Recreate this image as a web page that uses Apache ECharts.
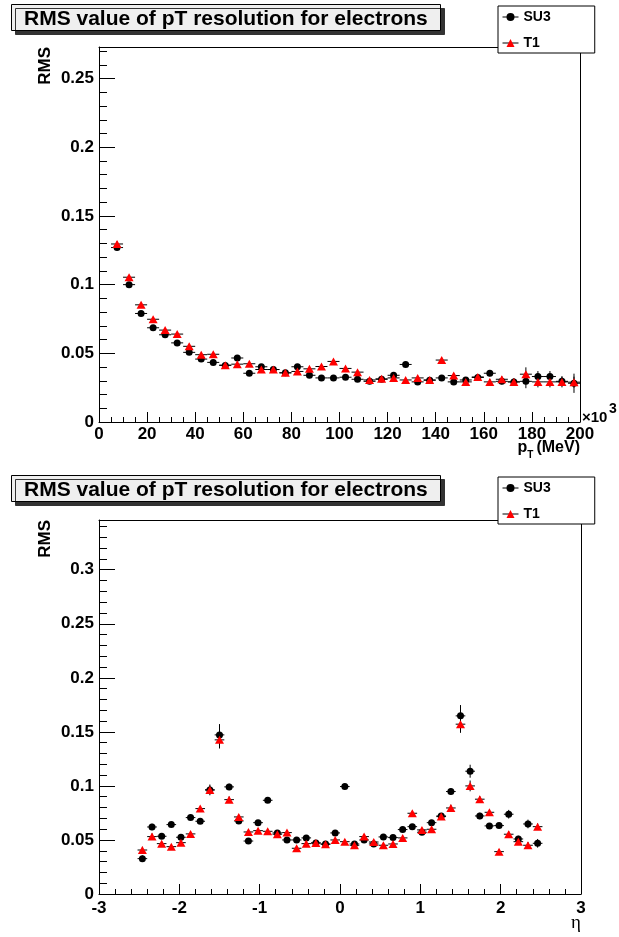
<!DOCTYPE html>
<html><head><meta charset="utf-8">
<script src="https://cdn.jsdelivr.net/npm/echarts@6/dist/echarts.min.js"></script>
<style>html,body{margin:0;padding:0;background:#fff}#c{width:619px;height:937px}</style>
</head><body><div id="c"></div>
<script>
// ---------- data ----------
const titleText = 'RMS value of pT resolution for electrons';
const seriesNames = ['SU3', 'T1'];

// pT plot (x in units of 10^3 MeV)
const ptBins = [7.5,12.5,17.5,22.5,27.5,32.5,37.5,42.5,47.5,52.5,57.5,62.5,67.5,72.5,77.5,82.5,87.5,92.5,97.5,102.5,107.5,112.5,117.5,122.5,127.5,132.5,137.5,142.5,147.5,152.5,157.5,162.5,167.5,172.5,177.5,182.5,187.5,192.5,197.5];
const su3Pt = [0.127,0.100,0.079,0.0686,0.0635,0.0576,0.0507,0.0458,0.0434,0.0412,0.0466,0.0355,0.0402,0.0382,0.0358,0.0402,0.034,0.0321,0.0321,0.0326,0.0311,0.0296,0.0311,0.034,0.0419,0.0292,0.0304,0.0321,0.0292,0.0306,0.0324,0.0355,0.0296,0.0292,0.0296,0.0331,0.0331,0.0296,0.0282];
const t1Pt = [0.1296,0.1054,0.0853,0.0748,0.0669,0.064,0.0551,0.049,0.0493,0.0414,0.0421,0.0424,0.0382,0.0382,0.0358,0.0368,0.0387,0.0404,0.0441,0.039,0.0363,0.0306,0.0314,0.0321,0.0306,0.0321,0.0306,0.0451,0.0338,0.0292,0.0328,0.0292,0.0311,0.0292,0.0348,0.0292,0.0292,0.0292,0.029];
const su3PtErr = [0.002,0.0015,0.0012,0.001,0.001,0.001,0.001,0.001,0.001,0.001,0.0012,0.001,0.001,0.001,0.001,0.0012,0.0012,0.0012,0.0012,0.0013,0.0013,0.0013,0.0014,0.0015,0.0016,0.0016,0.0017,0.0018,0.0018,0.002,0.002,0.0022,0.0022,0.0025,0.005,0.004,0.004,0.0035,0.007];
const t1PtErr = [0.002,0.0015,0.0012,0.001,0.001,0.001,0.001,0.001,0.001,0.001,0.0012,0.001,0.001,0.001,0.001,0.0012,0.0012,0.0012,0.0012,0.0013,0.0013,0.0013,0.0014,0.0015,0.0016,0.0016,0.0017,0.0018,0.0018,0.002,0.002,0.0022,0.0022,0.0025,0.005,0.004,0.004,0.004,0.004];
const ptHalfBin = 2.5;
const ptRange = [0, 200];
const ptTickStep = [20, 5];
const rmsRangePt = [0, 0.273];

// eta plot
const etaBins = [-2.46,-2.34,-2.22,-2.10,-1.98,-1.86,-1.74,-1.62,-1.50,-1.38,-1.26,-1.14,-1.02,-0.90,-0.78,-0.66,-0.54,-0.42,-0.30,-0.18,-0.06,0.06,0.18,0.30,0.42,0.54,0.66,0.78,0.90,1.02,1.14,1.26,1.38,1.50,1.62,1.74,1.86,1.98,2.10,2.22,2.34,2.46];
const su3Eta = [0.0327,0.062,0.0534,0.0642,0.0525,0.0707,0.0673,0.0963,0.1472,0.0991,0.0676,0.049,0.066,0.0867,0.0565,0.05,0.05,0.0519,0.0472,0.0463,0.0565,0.0994,0.0463,0.05,0.0463,0.0528,0.0522,0.0596,0.0623,0.0571,0.066,0.0722,0.0948,0.1648,0.1136,0.0722,0.063,0.0633,0.0738,0.0509,0.0648,0.0469];
const t1Eta = [0.0407,0.0531,0.0466,0.0438,0.0475,0.0556,0.079,0.0963,0.1426,0.0873,0.0713,0.0574,0.0586,0.058,0.0553,0.0568,0.0423,0.0466,0.0472,0.046,0.05,0.0484,0.0451,0.0531,0.0481,0.0451,0.0463,0.0519,0.0747,0.0593,0.0599,0.0716,0.0796,0.1571,0.1,0.0877,0.0756,0.0392,0.0553,0.0484,0.0451,0.0623];
const su3EtaErr = [0.003,0.003,0.002,0.002,0.002,0.002,0.002,0.005,0.010,0.003,0.002,0.002,0.002,0.002,0.002,0.002,0.002,0.002,0.002,0.002,0.002,0.002,0.002,0.002,0.002,0.002,0.002,0.002,0.002,0.002,0.002,0.002,0.003,0.010,0.006,0.003,0.002,0.002,0.004,0.003,0.004,0.004];
const t1EtaErr = [0.003,0.003,0.002,0.002,0.002,0.002,0.002,0.004,0.008,0.003,0.002,0.002,0.002,0.002,0.002,0.002,0.002,0.002,0.002,0.002,0.002,0.002,0.002,0.002,0.002,0.002,0.002,0.002,0.002,0.002,0.002,0.002,0.003,0.008,0.005,0.003,0.002,0.002,0.003,0.003,0.003,0.003];
const etaHalfBin = 0.06;
const etaRange = [-3, 3];
const etaTickStep = [1, 0.2];
const rmsRangeEta = [0, 0.346];
const rmsTickStep = [0.05, 0.01];

// ---------- chart ----------
const FONT = '"Liberation Sans", Arial, Helvetica, sans-serif';
const zip = (xs, ys, es) => xs.map((x, i) => es ? [x, ys[i], es[i]] : [x, ys[i]]);

const grids = [
  {left: 99, top: 47, width: 481, height: 375},
  {left: 99, top: 520, width: 482, height: 374}
];

function gridOpt(g) { return Object.assign({show: false, containLabel: false, outerBoundsMode: 'none'}, g); }

const labelStyle = {color: '#000', fontSize: 17, fontWeight: 'bold', fontFamily: FONT};
const blackLine = {lineStyle: {color: '#000', width: 1}};

function mainX(gi, range, step, margin) {
  return {type: 'value', gridIndex: gi, min: range[0], max: range[1], interval: step,
    axisLine: Object.assign({show: true, onZero: false}, blackLine),
    axisTick: Object.assign({show: true, inside: true, length: 10}, blackLine),
    axisLabel: Object.assign({margin: margin, showMaxLabel: true, showMinLabel: true, hideOverlap: false}, labelStyle),
    splitLine: {show: false}, nameMoveOverlap: false};
}
function mainY(gi, range, step) {
  return {type: 'value', gridIndex: gi, min: range[0], max: range[1], interval: step,
    axisLine: Object.assign({show: true, onZero: false}, blackLine),
    axisTick: Object.assign({show: true, inside: true, length: 16}, blackLine),
    axisLabel: Object.assign({margin: 5, showMaxLabel: false, showMinLabel: true, hideOverlap: false}, labelStyle),
    splitLine: {show: false}};
}
function minorAxis(gi, range, step, len) {
  return {type: 'value', gridIndex: gi, min: range[0], max: range[1], interval: step,
    axisLine: {show: false, onZero: false}, axisLabel: {show: false}, splitLine: {show: false},
    axisTick: Object.assign({show: true, inside: true, length: len}, blackLine)};
}
function frameAxis(gi, pos) {
  return {type: 'value', gridIndex: gi, position: pos, min: 0, max: 1,
    axisLine: Object.assign({show: true, onZero: false}, blackLine),
    axisTick: {show: false}, axisLabel: {show: false}, splitLine: {show: false}};
}

function errSeries(name, xi, data, dx) {
  return {type: 'custom', name: name, xAxisIndex: xi, yAxisIndex: xi, silent: true,
    encode: {x: 0, y: 1}, data: data,
    renderItem: function (params, api) {
      const x = api.value(0), y = api.value(1), e = api.value(2);
      const l = api.coord([x - dx, y]), r = api.coord([x + dx, y]);
      const t = api.coord([x, y + e]), b = api.coord([x, y - e]);
      return {type: 'group', children: [
        {type: 'line', shape: {x1: l[0], y1: l[1], x2: r[0], y2: r[1]}, style: {stroke: '#000', lineWidth: 1}},
        {type: 'line', shape: {x1: t[0], y1: t[1], x2: b[0], y2: b[1]}, style: {stroke: '#000', lineWidth: 1}}
      ]};
    }};
}
function markSeries(name, xi, data, symbol, size, color) {
  return {type: 'line', name: name, xAxisIndex: xi, yAxisIndex: xi, data: data, silent: true,
    symbol: symbol, symbolSize: size, showSymbol: true, showAllSymbol: true,
    itemStyle: {color: color, borderWidth: 0}, lineStyle: {opacity: 0, width: 0},
    emphasis: {disabled: true}};
}

function legendOpt(top) {
  return {data: seriesNames, orient: 'vertical', left: 498, top: top,
    padding: [4, 44, 3, 4], itemGap: 12, itemWidth: 16, itemHeight: 10,
    borderColor: '#000', borderWidth: 1, backgroundColor: '#fff', borderRadius: 0,
    selectedMode: false, z: 10,
    lineStyle: {color: '#000', width: 1, opacity: 1, type: 'solid'},
    textStyle: {color: '#000', fontSize: 14, fontWeight: 'bold', fontFamily: FONT, lineHeight: 14}};
}
function titleOpt(top) {
  return {text: titleText, left: 11, top: top, padding: [5, 13, 1, 13],
    backgroundColor: '#efefef', borderColor: '#000', borderWidth: 1,
    shadowColor: '#333', shadowOffsetX: 4, shadowOffsetY: 4, shadowBlur: 0,
    textStyle: {color: '#000', fontSize: 21, fontWeight: 'bold', fontFamily: FONT, lineHeight: 21}};
}

const chart = echarts.init(document.getElementById('c'), null, {renderer: 'canvas'});
chart.setOption({
  animation: false,
  backgroundColor: '#fff',
  title: [titleOpt(4), titleOpt(475)],
  legend: [legendOpt(6), legendOpt(477)],
  grid: [gridOpt(grids[0]), gridOpt(grids[1]), gridOpt(grids[0]), gridOpt(grids[1])],
  xAxis: [
    mainX(0, ptRange, ptTickStep[0], 4),
    mainX(1, etaRange, etaTickStep[0], 5.5),
    minorAxis(2, ptRange, ptTickStep[1], 5),
    frameAxis(2, 'top'),
    minorAxis(3, etaRange, etaTickStep[1], 5),
    frameAxis(3, 'top')
  ],
  yAxis: [
    mainY(0, rmsRangePt, rmsTickStep[0]),
    mainY(1, rmsRangeEta, rmsTickStep[0]),
    minorAxis(2, rmsRangePt, rmsTickStep[1], 8),
    frameAxis(2, 'right'),
    minorAxis(3, rmsRangeEta, rmsTickStep[1], 8),
    frameAxis(3, 'right')
  ],
  series: [
    errSeries('SU3 err', 0, zip(ptBins, su3Pt, su3PtErr), ptHalfBin),
    markSeries('SU3', 0, zip(ptBins, su3Pt), 'circle', 7, '#000'),
    errSeries('T1 err', 0, zip(ptBins, t1Pt, t1PtErr), ptHalfBin),
    markSeries('T1', 0, zip(ptBins, t1Pt), 'triangle', [9, 8], '#ff0000'),
    errSeries('SU3 err', 1, zip(etaBins, su3Eta, su3EtaErr), etaHalfBin),
    markSeries('SU3', 1, zip(etaBins, su3Eta), 'circle', 7, '#000'),
    errSeries('T1 err', 1, zip(etaBins, t1Eta, t1EtaErr), etaHalfBin),
    markSeries('T1', 1, zip(etaBins, t1Eta), 'triangle', [9, 8], '#ff0000')
  ],
  graphic: [
    {type: 'text', x: 45, y: 47, rotation: Math.PI / 2, z: 10,
      style: {text: 'RMS', fill: '#000', font: 'bold 17px ' + FONT, align: 'right', verticalAlign: 'middle'}},
    {type: 'text', x: 45, y: 520, rotation: Math.PI / 2, z: 10,
      style: {text: 'RMS', fill: '#000', font: 'bold 17px ' + FONT, align: 'right', verticalAlign: 'middle'}},
    {type: 'text', x: 580, y: 440, z: 10,
      style: {text: '{a|p}{b|T}{c|(MeV)}', align: 'right', verticalAlign: 'top',
        rich: {
          a: {fill: '#000', fontSize: 16, fontWeight: 'bold', fontFamily: FONT, lineHeight: 18, verticalAlign: 'top'},
          b: {fill: '#000', fontSize: 10, fontWeight: 'bold', fontFamily: FONT, lineHeight: 10, padding: [13, 0, 0, 0]},
          c: {fill: '#000', fontSize: 16, fontWeight: 'bold', fontFamily: FONT, lineHeight: 18, verticalAlign: 'top', padding: [0, 0, 0, 3]}
        }}},
    {type: 'text', x: 582, y: 418, z: 10,
      style: {text: '×10', fill: '#000', font: 'bold 15px ' + FONT, align: 'left', verticalAlign: 'middle'}},
    {type: 'text', x: 609, y: 409, z: 10,
      style: {text: '3', fill: '#000', font: 'bold 14px ' + FONT, align: 'left', verticalAlign: 'middle'}},
    {type: 'text', x: 581, y: 923, z: 10,
      style: {text: 'η', fill: '#000', font: '19px "Liberation Serif", "DejaVu Serif", serif', align: 'right', verticalAlign: 'middle'}}
  ]
});
</script></body></html>
